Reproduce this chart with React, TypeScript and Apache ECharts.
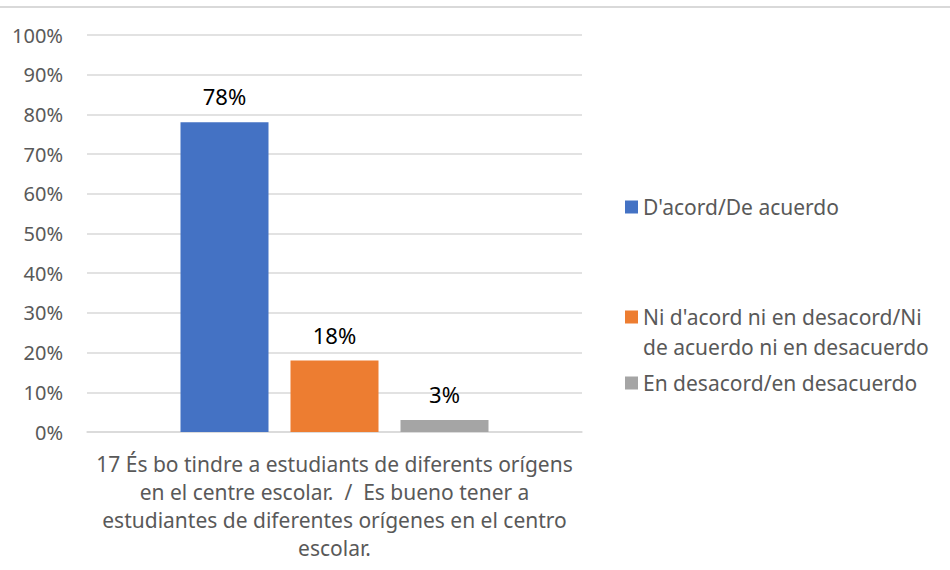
import React, { useEffect, useRef } from "react";
import * as echarts from "echarts";

const categoryLines = [
  "17 És bo tindre a estudiants de diferents orígens",
  "en el centre escolar.  /  Es bueno tener a",
  "estudiantes de diferentes orígenes en el centro",
  "escolar.",
];
const seriesNames = [
  "D'acord/De acuerdo",
  "Ni d'acord ni en desacord/Ni de acuerdo ni en desacuerdo",
  "En desacord/en desacuerdo",
];
const legendFirstLines = [
  "D'acord/De acuerdo",
  "Ni d'acord ni en desacord/Ni",
  "En desacord/en desacuerdo",
];
const legendSecondLine = "de acuerdo ni en desacuerdo";
const seriesValues = [0.78, 0.18, 0.03];
const seriesColors = ["#4472C4", "#ED7D31", "#A5A5A5"];
const yMin = 0;
const yMax = 1;
const yStep = 0.1;

const FONT = "Noto Sans";

export default function App() {
  const ref = useRef<HTMLDivElement>(null);
  useEffect(() => {
    if (!ref.current) return;
    const chart = echarts.init(ref.current, null, { renderer: "svg" });
    const category = categoryLines.join("\n");
    const legendTops = [192, 302, 368];
    const option: any = {
      animation: false,
      backgroundColor: "#ffffff",
      textStyle: { fontFamily: FONT },
      grid: { left: 87, right: 368, top: 35, bottom: 138, containLabel: false },
      xAxis: {
        type: "category",
        data: [category],
        axisLine: { show: true, lineStyle: { color: "#d9d9d9", width: 1.5 } },
        axisTick: { show: false },
        axisLabel: {
          color: "#595959",
          fontFamily: FONT,
          fontSize: 21,
          lineHeight: 28,
          margin: 18,
          align: "center",
        },
      },
      yAxis: {
        type: "value",
        min: yMin,
        max: yMax,
        interval: yStep,
        axisLine: { show: false },
        axisTick: { show: false },
        splitLine: { lineStyle: { color: "#d9d9d9", width: 1.5 } },
        axisLabel: {
          color: "#595959",
          fontFamily: FONT,
          fontSize: 20,
          margin: 24,
          formatter: (v: number) => `${Math.round(v * 100)}%`,
        },
      },
      legend: legendFirstLines.map((txt, i) => ({
        show: true,
        orient: "vertical",
        left: 625,
        top: legendTops[i],
        padding: 0,
        itemWidth: 13,
        itemHeight: 13,
        icon: "rect",
        selectedMode: false,
        data: [seriesNames[i]],
        formatter: () => txt,
        textStyle: {
          color: "#595959",
          fontFamily: FONT,
          fontSize: 21,
          lineHeight: 30,
        },
      })),
      graphic: [
        {
          type: "line",
          shape: { x1: 0, y1: 7, x2: 950, y2: 7 },
          style: { stroke: "#d9d9d9", lineWidth: 2 },
        },
        {
          type: "text",
          left: 643,
          top: 347 - 15,
          style: {
            text: legendSecondLine,
            fill: "#595959",
            font: `21px "${FONT}"`,
            lineHeight: 30,
          },
        },
      ],
      series: seriesNames.map((name, i) => ({
        name,
        type: "bar",
        data: [seriesValues[i]],
        barWidth: 88,
        barGap: "25%",
        itemStyle: { color: seriesColors[i] },
        label: {
          show: true,
          position: "top",
          distance: 15,
          color: "#000000",
          fontFamily: FONT,
          fontSize: 22,
          formatter: (p: any) => `${Math.round(p.value * 100)}%`,
        },
      })),
    };
    chart.setOption(option);
    return () => chart.dispose();
  }, []);
  return (
    <div
      ref={ref}
      style={{ position: "fixed", left: 0, top: 0, width: 950, height: 570 }}
    />
  );
}
